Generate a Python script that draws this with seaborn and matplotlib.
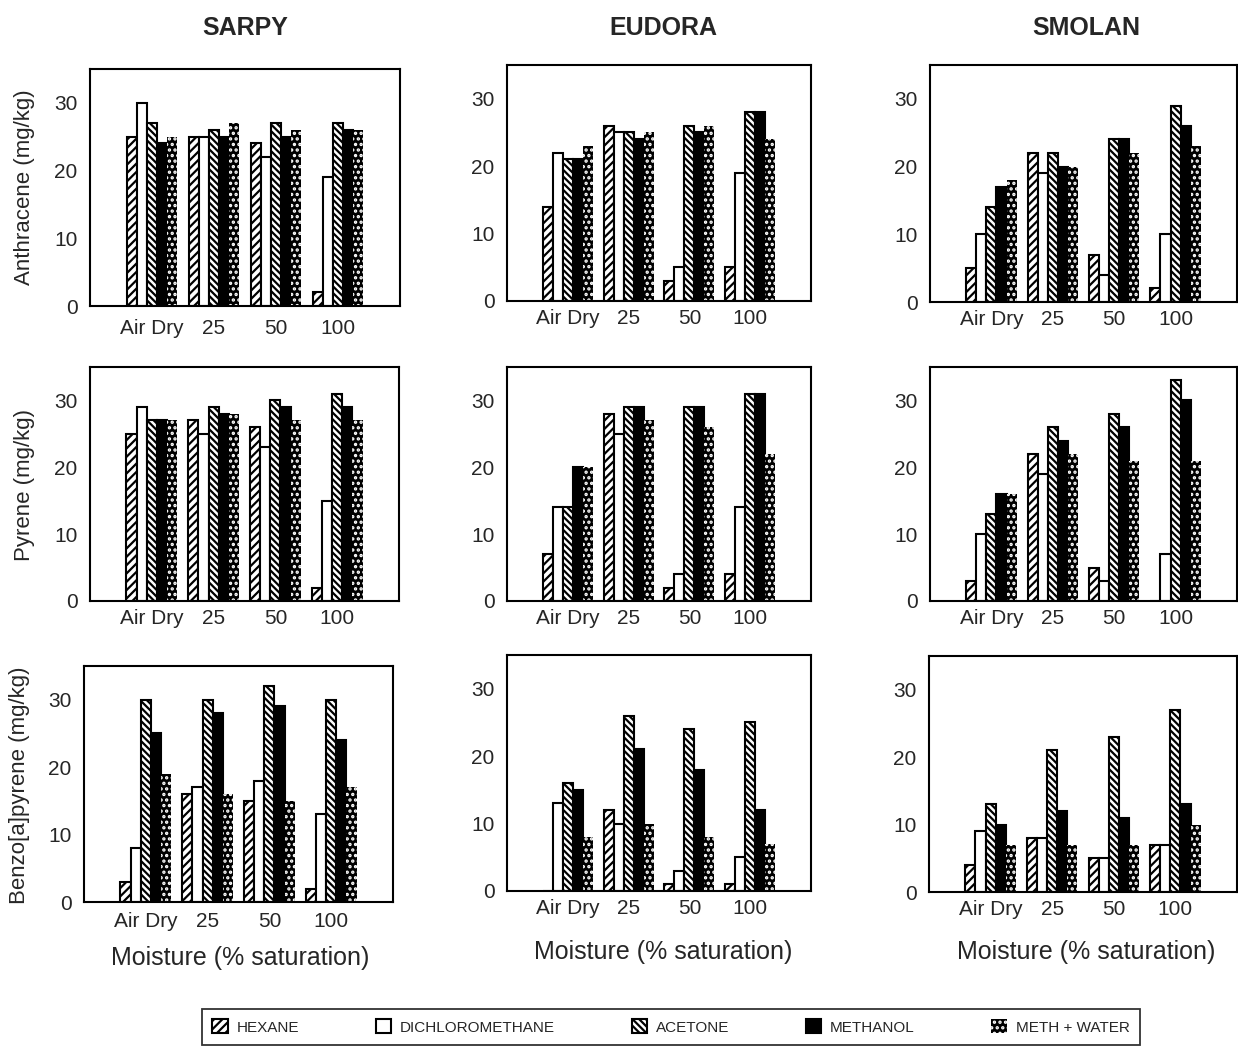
import pandas as pd
import matplotlib
matplotlib.use("Agg")
import matplotlib.pyplot as plt
from matplotlib.patches import Patch
from matplotlib.ticker import MultipleLocator
import seaborn as sns

moisture = ["Air Dry", "25", "50", "100"]
solvents = ["HEXANE", "DICHLOROMETHANE", "ACETONE", "METHANOL", "METH + WATER"]
soils = ["SARPY", "EUDORA", "SMOLAN"]
compounds = ["Anthracene", "Pyrene", "Benzo[a]pyrene"]

# one row per solvent (order of `solvents`), columns follow `moisture`
sarpy_anthracene = [[25, 25, 24, 2], [30, 25, 22, 19], [27, 26, 27, 27], [24, 25, 25, 26], [25, 27, 26, 26]]
eudora_anthracene = [[14, 26, 3, 5], [22, 25, 5, 19], [21, 25, 26, 28], [21, 24, 25, 28], [23, 25, 26, 24]]
smolan_anthracene = [[5, 22, 7, 2], [10, 19, 4, 10], [14, 22, 24, 29], [17, 20, 24, 26], [18, 20, 22, 23]]
sarpy_pyrene = [[25, 27, 26, 2], [29, 25, 23, 15], [27, 29, 30, 31], [27, 28, 29, 29], [27, 28, 27, 27]]
eudora_pyrene = [[7, 28, 2, 4], [14, 25, 4, 14], [14, 29, 29, 31], [20, 29, 29, 31], [20, 27, 26, 22]]
smolan_pyrene = [[3, 22, 5, 0], [10, 19, 3, 7], [13, 26, 28, 33], [16, 24, 26, 30], [16, 22, 21, 21]]
sarpy_bap = [[3, 16, 15, 2], [8, 17, 18, 13], [30, 30, 32, 30], [25, 28, 29, 24], [19, 16, 15, 17]]
eudora_bap = [[0, 12, 1, 1], [13, 10, 3, 5], [16, 26, 24, 25], [15, 21, 18, 12], [8, 10, 8, 7]]
smolan_bap = [[4, 8, 5, 7], [9, 8, 5, 7], [13, 21, 23, 27], [10, 12, 11, 13], [7, 7, 7, 10]]

panels = {
    ("SARPY", "Anthracene"): sarpy_anthracene,
    ("EUDORA", "Anthracene"): eudora_anthracene,
    ("SMOLAN", "Anthracene"): smolan_anthracene,
    ("SARPY", "Pyrene"): sarpy_pyrene,
    ("EUDORA", "Pyrene"): eudora_pyrene,
    ("SMOLAN", "Pyrene"): smolan_pyrene,
    ("SARPY", "Benzo[a]pyrene"): sarpy_bap,
    ("EUDORA", "Benzo[a]pyrene"): eudora_bap,
    ("SMOLAN", "Benzo[a]pyrene"): smolan_bap,
}

rows = []
for (soil, comp), table in panels.items():
    for s, vals in zip(solvents, table):
        for m, v in zip(moisture, vals):
            rows.append({"soil": soil, "compound": comp, "moisture": m, "solvent": s, "value": v})
df = pd.DataFrame(rows)

sns.set_style("white")
plt.rcParams['font.family'] = ['Liberation Sans', 'DejaVu Sans']
plt.rcParams['hatch.linewidth'] = 1.6

styles = {
    "HEXANE": dict(facecolor="white", edgecolor="black", hatch="////", linewidth=1.5),
    "DICHLOROMETHANE": dict(facecolor="white", edgecolor="black", hatch="", linewidth=1.5),
    "ACETONE": dict(facecolor="white", edgecolor="black", hatch="\\\\\\\\\\", linewidth=1.5),
    "METHANOL": dict(facecolor="black", edgecolor="black", hatch="", linewidth=1.5),
    "METH + WATER": dict(facecolor="black", edgecolor="white", hatch="...", linewidth=0),
}

W, H = 1238, 1055
fig = plt.figure(figsize=(W / 100, H / 100), dpi=100)

# axes boxes in pixels: left, right, top, bottom, x tick label pad
boxes = {
    ("SARPY", "Anthracene"): (90, 400, 69, 306, 9),
    ("EUDORA", "Anthracene"): (507, 811, 65, 301, 6),
    ("SMOLAN", "Anthracene"): (930, 1237, 65, 302, 6),
    ("SARPY", "Pyrene"): (90, 399, 367, 601, 6),
    ("EUDORA", "Pyrene"): (507, 811, 367, 601, 6),
    ("SMOLAN", "Pyrene"): (930, 1237, 367, 601, 6),
    ("SARPY", "Benzo[a]pyrene"): (84, 393, 666, 902, 7.5),
    ("EUDORA", "Benzo[a]pyrene"): (507, 811, 655, 891, 6),
    ("SMOLAN", "Benzo[a]pyrene"): (929, 1237, 656, 892, 6),
}

for (soil, comp), (l, r, t, b, xpad) in boxes.items():
    ax = fig.add_axes([l / W, 1 - b / H, (r - l) / W, (b - t) / H])
    sub = df[(df.soil == soil) & (df.compound == comp)]
    sns.barplot(data=sub, x="moisture", y="value", hue="solvent", order=moisture,
                hue_order=solvents, width=0.82, errorbar=None, legend=False, ax=ax)
    for i, cont in enumerate(ax.containers):
        for bar in cont:
            bar.set(**styles[solvents[i]])
    ax.set_xlim(-1, 4)
    ax.set_ylim(0, 35)
    ax.set_yticks([0, 10, 20, 30])
    ax.yaxis.set_minor_locator(MultipleLocator(2))
    ax.tick_params(axis="y", which="major", direction="in", length=5, width=1.2, labelsize=15, pad=9)
    ax.tick_params(axis="y", which="minor", direction="in", length=3, width=1)
    ax.tick_params(axis="x", length=0, labelsize=15, pad=xpad)
    ax.set_xlabel("")
    ax.set_ylabel("")
    for sp in ax.spines.values():
        sp.set_color("black")
        sp.set_linewidth(1.5)

# column titles
for soil, x in zip(soils, [245, 663, 1086]):
    fig.text(x / W, 1 - 28 / H, soil, ha="center", va="center", fontsize=18, fontweight="bold")

# y labels on the left column
for comp, (x, y) in zip(compounds, [(25, 187), (25, 485), (20, 785)]):
    fig.text(x / W, 1 - y / H, f"{comp} (mg/kg)", rotation=90, ha="center", va="center", fontsize=16)

# x labels under the bottom row
for x, y in [(240, 958), (663, 952), (1086, 952)]:
    fig.text(x / W, 1 - y / H, "Moisture (% saturation)", ha="center", va="center", fontsize=18)

handles = [Patch(**styles[s]) for s in solvents]
leg = fig.legend(handles, solvents, ncol=5, loc="center", bbox_to_anchor=(671 / W, 1 - 1027 / H),
                 frameon=True, fancybox=False, edgecolor="black", fontsize=11,
                 handlelength=1.0, handleheight=1.0, handletextpad=0.6, columnspacing=5.0,
                 borderpad=0.7)
leg.get_frame().set_linewidth(1.3)

fig.savefig("out.png", dpi=100, facecolor="white")
